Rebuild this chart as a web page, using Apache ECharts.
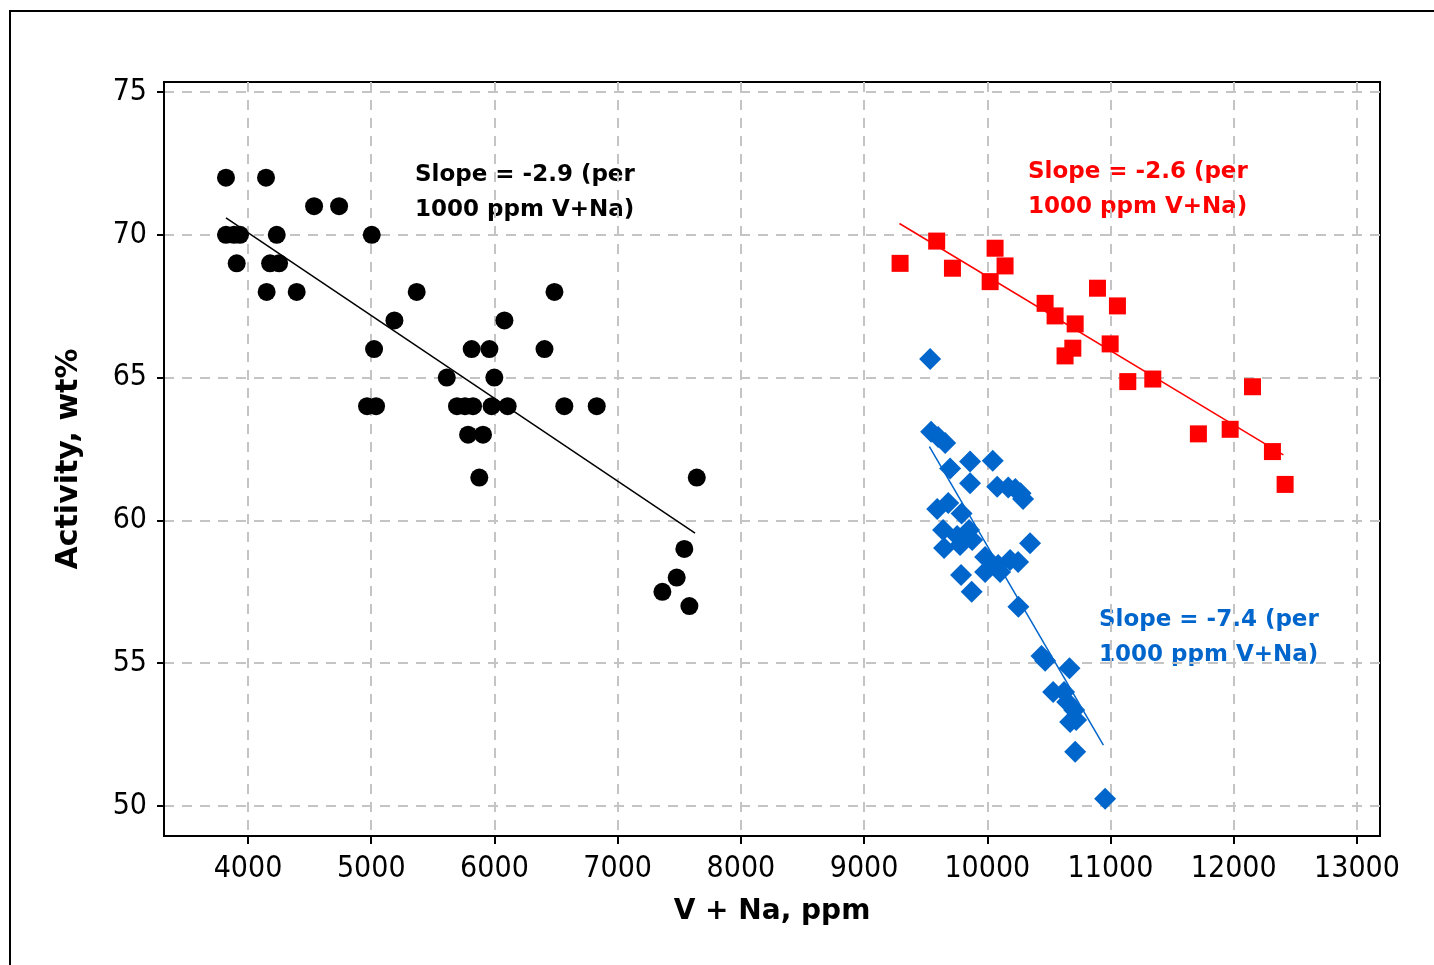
<!DOCTYPE html>
<html>
<head>
<meta charset="utf-8">
<title>Activity vs V + Na</title>
<script src="https://cdn.jsdelivr.net/npm/echarts@6/dist/echarts.min.js"></script>
<style>
  html, body { margin: 0; padding: 0; background: #fff; }
  #chart { width: 1434px; height: 965px; }
</style>
</head>
<body>
<div id="chart"></div>
<script>
// Catalyst activity (wt%) against combined V + Na contamination (ppm)
const xTicks = [4000, 5000, 6000, 7000, 8000, 9000, 10000, 11000, 12000, 13000];
const yTicks = [50, 55, 60, 65, 70, 75];

// Group 1 (black circles)
const groupBlack = [
  [3821, 72], [4146, 72], [4536, 71], [4739, 71],
  [3821, 70], [3886, 70], [3935, 70], [4233, 70], [5004, 70],
  [3908, 69], [4179, 69], [4252, 69],
  [4151, 68], [4395, 68], [5369, 68], [6487, 68],
  [5188, 67], [6081, 67],
  [5023, 66], [5815, 66], [5959, 66], [6406, 66],
  [5613, 65], [5999, 65],
  [4966, 64], [5039, 64], [5696, 64], [5761, 64], [5826, 64], [5977, 64], [6107, 64], [6567, 64], [6830, 64],
  [5786, 63], [5907, 63],
  [5877, 61.5], [7642, 61.5],
  [7541, 59], [7479, 58], [7363, 57.5], [7582, 57]
];

// Group 2 (red squares)
const groupRed = [
  [9292, 69.0], [9589, 69.78], [9717, 68.83], [10063, 69.53], [10144, 68.91], [10023, 68.36],
  [10469, 67.60], [10550, 67.16], [10713, 66.88], [10894, 68.13], [11056, 67.51],
  [10694, 66.03], [10631, 65.76], [10997, 66.18], [11140, 64.86], [11343, 64.95],
  [12152, 64.68], [11713, 63.03], [11971, 63.19], [12314, 62.41], [12417, 61.26]
];

// Group 3 (blue diamonds)
const groupBlue = [
  [9536, 65.65],
  [9544, 63.10], [9601, 62.92], [9658, 62.71],
  [9698, 61.82], [9860, 62.06], [10044, 62.09], [9860, 61.30],
  [10080, 61.18], [10170, 61.15], [10227, 61.10], [10270, 60.95], [10290, 60.75],
  [9593, 60.40], [9683, 60.61], [9791, 60.24],
  [9641, 59.66], [9755, 59.45], [9852, 59.66], [9649, 59.03], [9779, 59.14], [9877, 59.31],
  [9982, 58.72], [10088, 58.44], [10185, 58.61], [9982, 58.19], [10104, 58.19], [10250, 58.54],
  [10347, 59.20], [9787, 58.09], [9873, 57.50], [10252, 56.98],
  [10469, 55.09], [10440, 55.25], [10667, 54.82],
  [10534, 53.99], [10623, 53.99], [10648, 53.64], [10705, 53.36], [10721, 53.01], [10672, 52.94],
  [10713, 51.90], [10956, 50.25]
];

// Fitted trends: slope per 1000 ppm, a point on the line, and the x span drawn
const trendBlack = { slope: -2.9, x0: 5724.5, y0: 65.075, from: 3821, to: 7628 };
const trendRed   = { slope: -2.6, x0: 10845,  y0: 66.345, from: 9287, to: 12403 };
const trendBlue  = { slope: -7.4, x0: 10236,  y0: 57.36,  from: 9530, to: 10942 };

const slopeLabels = [
  ['Slope = -2.9 (per', '1000 ppm V+Na)'],
  ['Slope = -2.6 (per', '1000 ppm V+Na)'],
  ['Slope = -7.4 (per', '1000 ppm V+Na)']
];

function trendLine(t) {
  const at = x => t.y0 + t.slope * (x - t.x0) / 1000;
  return [[t.from, at(t.from)], [t.to, at(t.to)]];
}

const FONT_NUM = '"DejaVu Sans Condensed", "DejaVu Sans", Tahoma, sans-serif';
const FONT_BOLD = '"DejaVu Sans", Tahoma, sans-serif';

const chart = echarts.init(document.getElementById('chart'), null, { renderer: 'canvas' });

function annotation(lines, left, top, color) {
  return {
    type: 'text',
    left: left,
    top: top,
    style: {
      text: lines.join('\n'),
      font: 'bold 23px ' + FONT_BOLD,
      fill: color,
      lineHeight: 35
    }
  };
}

chart.setOption({
  animation: false,
  backgroundColor: '#fff',
  grid: {
    left: 164, top: 82, width: 1216, height: 754,
    show: true, borderColor: '#000', borderWidth: 2, backgroundColor: 'transparent'
  },
  xAxis: {
    type: 'value',
    min: 3318, max: 13187,
    name: 'V + Na, ppm',
    nameLocation: 'middle',
    nameGap: 62,
    nameTextStyle: { fontFamily: FONT_BOLD, fontWeight: 'bold', fontSize: 28, color: '#000' },
    axisLine: { show: true, onZero: false, lineStyle: { color: '#000', width: 2 } },
    axisTick: { show: true, inside: false, length: 8, customValues: xTicks, lineStyle: { color: '#000', width: 2 } },
    axisLabel: {
      customValues: xTicks, formatter: v => String(v),
      fontFamily: FONT_NUM, fontSize: 30, color: '#000', margin: 18
    },
    splitLine: { show: true, lineStyle: { color: '#c4c4c4', width: 2, type: [10, 8] } }
  },
  yAxis: {
    type: 'value',
    min: 48.95, max: 75.35,
    name: 'Activity, wt%',
    nameLocation: 'middle',
    nameGap: 80,
    nameRotate: 90,
    nameTextStyle: { fontFamily: FONT_BOLD, fontWeight: 'bold', fontSize: 30, color: '#000' },
    axisLine: { show: true, onZero: false, lineStyle: { color: '#000', width: 2 } },
    axisTick: { show: true, inside: false, length: 7, customValues: yTicks, lineStyle: { color: '#000', width: 2 } },
    axisLabel: {
      customValues: yTicks, formatter: v => String(v),
      fontFamily: FONT_NUM, fontSize: 30, color: '#000', margin: 17
    },
    splitLine: { show: true, lineStyle: { color: '#c4c4c4', width: 2, type: [10, 8] } }
  },
  graphic: [
    { type: 'polyline', shape: { points: [[10, 965], [10, 11], [1434, 11]] }, style: { stroke: '#000', lineWidth: 2, fill: null } },
    annotation(slopeLabels[0], 415, 158, '#000'),
    annotation(slopeLabels[1], 1028, 155, '#ff0000'),
    annotation(slopeLabels[2], 1099, 603, '#0066cc')
  ],
  series: [
    {
      type: 'line', data: trendLine(trendBlack), symbol: 'none', silent: true,
      lineStyle: { color: '#000', width: 1.5 }, z: 3
    },
    {
      type: 'line', data: trendLine(trendRed), symbol: 'none', silent: true,
      lineStyle: { color: '#ff0000', width: 1.5 }, z: 3
    },
    {
      type: 'line', data: trendLine(trendBlue), symbol: 'none', silent: true,
      lineStyle: { color: '#0066cc', width: 1.5 }, z: 3
    },
    {
      type: 'scatter', data: groupBlack, symbol: 'circle', symbolSize: 18,
      itemStyle: { color: '#000', opacity: 1 }, z: 4
    },
    {
      type: 'scatter', data: groupRed, symbol: 'rect', symbolSize: 17,
      itemStyle: { color: '#ff0000', opacity: 1 }, z: 4
    },
    {
      type: 'scatter', data: groupBlue, symbol: 'diamond', symbolSize: 22,
      itemStyle: { color: '#0066cc', opacity: 1 }, z: 4
    }
  ]
});
</script>
</body>
</html>
